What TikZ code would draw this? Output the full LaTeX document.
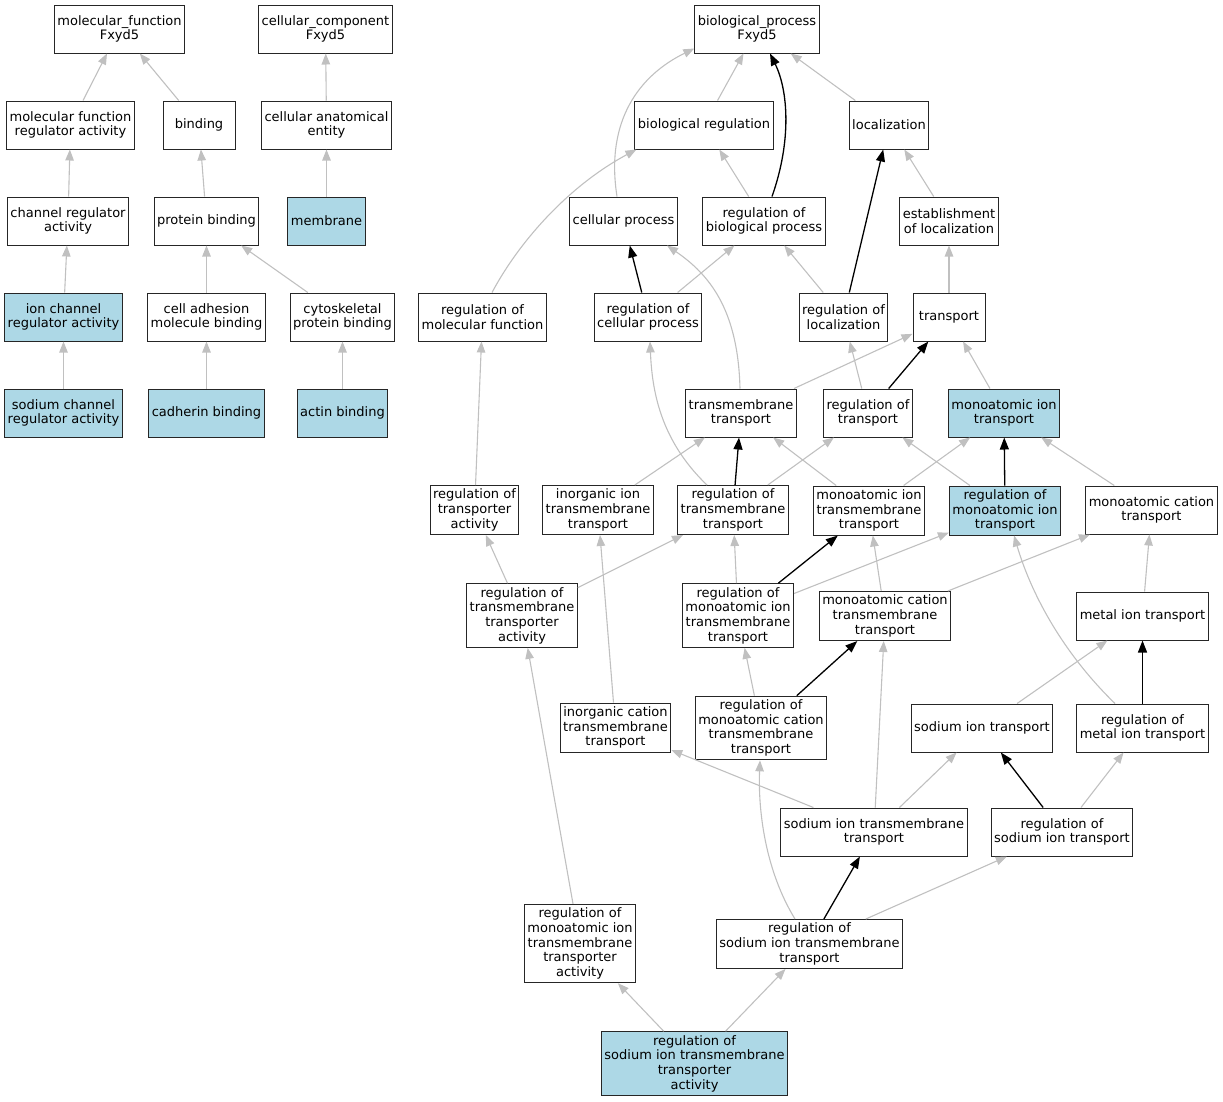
\documentclass[tikz,border=0pt]{standalone}
\usepackage{fontspec}
\setmainfont{DejaVu Sans}
\usepackage{xcolor}
\usepackage{tikz}
\usetikzlibrary{arrows.meta}
\definecolor{hitblue}{HTML}{ADD8E6}
\definecolor{isagray}{HTML}{C0C0C0}
\tikzset{
  term/.style={
    draw=black!85, line width=1pt, fill=white, rectangle, align=center,
    font=\fontsize{13}{14.7}\selectfont,
    inner xsep=3pt, inner ysep=3.5pt,
    minimum width=72pt, minimum height=48pt,
  },
  term hit/.style={term, fill=hitblue},
  isa edge/.style={
    draw=isagray, line width=1.1pt,
    -{Triangle[length=11pt,width=8.5pt]},
  },
  reg edge/.style={
    draw=black, line width=1.3pt,
    -{Triangle[length=12pt,width=9pt]},
  },
}
\begin{document}
\begin{tikzpicture}[x=1pt, y=-1pt]

  \useasboundingbox (0,0) rectangle (1223,1101);

  % Define nodes: molecular function and cellular component
  \node[term] (mf) at (119.5,29) {molecular\_function\\Fxyd5};
  \node[term] (cc) at (325.5,29) {cellular\_component\\Fxyd5};
  \node[term] (mfra) at (70.5,125) {molecular function\\regulator activity};
  \node[term] (binding) at (199,125) {binding};
  \node[term] (cae) at (326.5,125) {cellular anatomical\\entity};
  \node[term] (chra) at (68,221) {channel regulator\\activity};
  \node[term] (pb) at (206.5,221) {protein binding};
  \node[term hit] (membrane) at (326.5,221) {membrane};
  \node[term hit] (icra) at (63.5,317) {ion channel\\regulator activity};
  \node[term] (camb) at (206.5,317) {cell adhesion\\molecule binding};
  \node[term] (cpb) at (342.5,317) {cytoskeletal\\protein binding};
  \node[term hit] (scra) at (63.5,413) {sodium channel\\regulator activity};
  \node[term hit] (cadh) at (206.5,413) {cadherin binding};
  \node[term hit] (actin) at (342.5,413) {actin binding};

  % Define nodes: biological process
  \node[term] (bp) at (757,29) {biological\_process\\Fxyd5};
  \node[term] (br) at (704,125) {biological regulation};
  \node[term] (loc) at (889,125) {localization};
  \node[term] (cp) at (623.5,221) {cellular process};
  \node[term] (rbp) at (764,221) {regulation of\\biological process};
  \node[term] (eol) at (949,221) {establishment\\of localization};
  \node[term] (rmf) at (482.5,317) {regulation of\\molecular function};
  \node[term] (rcp) at (648,317) {regulation of\\cellular process};
  \node[term] (rloc) at (843.5,317) {regulation of\\localization};
  \node[term] (transport) at (949,317) {transport};
  \node[term] (tmt) at (741,413) {transmembrane\\transport};
  \node[term] (rot) at (868,413) {regulation of\\transport};
  \node[term hit] (mit) at (1004,413) {monoatomic ion\\transport};
  \node[term] (rta) at (474.5,510) {regulation of\\transporter\\activity};
  \node[term] (iitt) at (598,510) {inorganic ion\\transmembrane\\transport};
  \node[term] (rtmt) at (733,510) {regulation of\\transmembrane\\transport};
  \node[term] (mitt) at (869,510.5) {monoatomic ion\\transmembrane\\transport};
  \node[term hit] (rmit) at (1005,510.5) {regulation of\\monoatomic ion\\transport};
  \node[term] (mct) at (1151.5,510) {monoatomic cation\\transport};
  \node[term] (rtta) at (522,615.5) {regulation of\\transmembrane\\transporter\\activity};
  \node[term] (rmitt) at (738,615.5) {regulation of\\monoatomic ion\\transmembrane\\transport};
  \node[term] (mctt) at (885,616) {monoatomic cation\\transmembrane\\transport};
  \node[term] (metal) at (1142.5,616) {metal ion transport};
  \node[term] (icatt) at (615.5,727.5) {inorganic cation\\transmembrane\\transport};
  \node[term] (rmcatt) at (761,728) {regulation of\\monoatomic cation\\transmembrane\\transport};
  \node[term] (sit) at (982,728) {sodium ion transport};
  \node[term] (rmetal) at (1142.5,728) {regulation of\\metal ion transport};
  \node[term] (sitt) at (874,832) {sodium ion transmembrane\\transport};
  \node[term] (rsit) at (1062,832) {regulation of\\sodium ion transport};
  \node[term] (rmittra) at (580,943.5) {regulation of\\monoatomic ion\\transmembrane\\transporter\\activity};
  \node[term] (rsitt) at (809.5,944) {regulation of\\sodium ion transmembrane\\transport};
  \node[term hit] (rsitta) at (694.5,1063.5) {regulation of\\sodium ion transmembrane\\transporter\\activity};

  % Connect nodes: is_a
  \draw[isa edge] (mfra) -- (mf);
  \draw[isa edge] (binding) -- (mf);
  \draw[isa edge] (cae) -- (cc);
  \draw[isa edge] (chra) -- (mfra);
  \draw[isa edge] (pb) -- (binding);
  \draw[isa edge] (membrane) -- (cae);
  \draw[isa edge] (icra) -- (chra);
  \draw[isa edge] (camb) -- (pb);
  \draw[isa edge] (cpb) -- (pb);
  \draw[isa edge] (scra) -- (icra);
  \draw[isa edge] (cadh) -- (camb);
  \draw[isa edge] (actin) -- (cpb);

  \draw[isa edge] (br) -- (bp);
  \draw[isa edge] (loc) -- (bp);
  \draw[isa edge] ([xshift=-6.5pt]cp.north) .. controls (605,120) and (640,75) .. ([yshift=5pt]bp.south west);
  \draw[isa edge] (rbp) -- (br);
  \draw[isa edge] (eol) -- (loc);
  \draw[isa edge] ([xshift=9.5pt]rmf.north) .. controls (520,240) and (570,185) .. ([xshift=2pt]br.south west);
  \draw[isa edge] (rcp) -- (rbp);
  \draw[isa edge] (rloc) -- (rbp);
  \draw[isa edge] (transport) -- (eol);
  \draw[isa edge] (tmt) -- (transport);
  \draw[isa edge] ([xshift=-1pt]tmt.north) .. controls (738,310) and (710,275) .. ([xshift=43.5pt]cp.south);
  \draw[isa edge] (rot) -- (rloc);
  \draw[isa edge] (mit) -- (transport);
  \draw[isa edge] (rtmt) -- (rot);
  \draw[isa edge] ([xshift=-26pt]rtmt.north) .. controls (660,440) and (652,390) .. ([xshift=2pt]rcp.south);
  \draw[isa edge] (iitt) -- (tmt);
  \draw[isa edge] (mitt) -- (tmt);
  \draw[isa edge] (mitt) -- (mit);
  \draw[isa edge] (rmit) -- (rot);
  \draw[isa edge] (mct) -- (mit);
  \draw[isa edge] (rta) -- (rmf);
  \draw[isa edge] (rtta) -- (rta);
  \draw[isa edge] (rtta) -- (rtmt);
  \draw[isa edge] (rmitt) -- (rtmt);
  \draw[isa edge] (rmitt) -- (rmit);
  \draw[isa edge] (mctt) -- (mitt);
  \draw[isa edge] (mctt) -- (mct);
  \draw[isa edge] (metal) -- (mct);
  \draw[isa edge] (icatt) -- (iitt);
  \draw[isa edge] (rmcatt) -- (rmitt);
  \draw[isa edge] (sit) -- (metal);
  \draw[isa edge] ([xshift=-27.5pt]rmetal.north) .. controls (1060,650) and (1030,590) .. ([xshift=9pt]rmit.south);
  \draw[isa edge] (sitt) -- (icatt);
  \draw[isa edge] (sitt) -- (mctt);
  \draw[isa edge] (sitt) -- (sit);
  \draw[isa edge] (rsit) -- (rmetal);
  \draw[isa edge] ([xshift=-14.5pt]rsitt.north) .. controls (765,870) and (758,810) .. ([xshift=-1pt]rmcatt.south);
  \draw[isa edge] (rsitt) -- (rsit);
  \draw[isa edge] (rmittra) -- (rtta);
  \draw[isa edge] (rsitta) -- (rmittra);
  \draw[isa edge] (rsitta) -- (rsitt);

  % Connect nodes: regulates
  \draw[reg edge] ([xshift=8pt]rbp.north) .. controls (792,140) and (788,90) .. ([xshift=13pt]bp.south);
  \draw[reg edge] (rcp) -- (cp);
  \draw[reg edge] (rloc) -- (loc);
  \draw[reg edge] (rot) -- (transport);
  \draw[reg edge] (rtmt) -- (tmt);
  \draw[reg edge] (rmit) -- (mit);
  \draw[reg edge] (rmitt) -- (mitt);
  \draw[reg edge] (rmcatt) -- (mctt);
  \draw[reg edge] (rmetal) -- (metal);
  \draw[reg edge] (rsit) -- (sit);
  \draw[reg edge] (rsitt) -- (sitt);

\end{tikzpicture}
\end{document}
